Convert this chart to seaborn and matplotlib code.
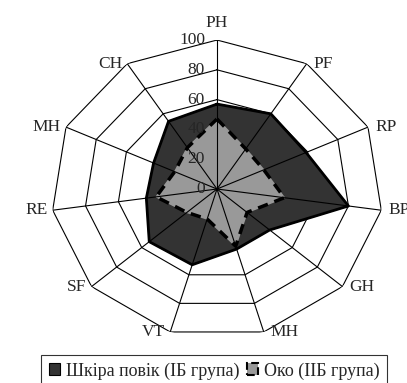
import numpy as np
import matplotlib
matplotlib.use('Agg')
import matplotlib.pyplot as plt
from matplotlib.patches import Patch
import seaborn as sns

# категорії (за годинниковою стрілкою від верху)
categories = ['PH', 'PF', 'RP', 'BP', 'GH', 'MH', 'VT', 'SF', 'RE', 'MH', 'CH']
skin_values = [57, 60, 59, 80, 42, 42, 53, 54, 43, 42, 54]   # Шкіра повік (ІБ група)
eye_values = [47, 32, 31, 41, 24, 40, 21, 24, 37, 28, 33]    # Око (ІІБ група)
ring_levels = [20, 40, 60, 80, 100]
tick_labels = ['0', '20', '40', '60', '80', '100']
series_names = ['Шкіра повік (ІБ група)', 'Око (ІІБ група)']

sns.set_theme(style='white')
plt.rcParams['font.family'] = ['Liberation Serif', 'DejaVu Serif']
plt.rcParams['font.size'] = 12.5

n = len(categories)
angles = np.linspace(0, 2 * np.pi, n, endpoint=False)
closed = np.append(angles, angles[0])

fig = plt.figure(figsize=(4.07, 3.83), dpi=100)
ax = fig.add_axes([0.1253, 0.1175, 0.8157, 0.778], projection='polar')
ax.set_theta_zero_location('N')
ax.set_theta_direction(-1)
ax.set_aspect('auto')
ax.set_ylim(0, 100)
ax.grid(False)
ax.spines['polar'].set_visible(False)
ax.set_xticks([])
ax.set_yticks([])
ax.patch.set_alpha(0)

# кільця сітки
for lvl in ring_levels:
    ax.plot(closed, [lvl] * (n + 1), color='black', lw=0.8, zorder=1)

# серії
skin = np.append(skin_values, skin_values[0])
eye = np.append(eye_values, eye_values[0])
ax.fill(closed, skin, color='#333333', zorder=2)
ax.plot(closed, skin, color='black', lw=2, zorder=3)
ax.fill(closed, eye, color='#999999', zorder=4)
ax.plot(closed, eye, color='black', lw=2.5, ls=(0, (3, 2)), zorder=5)

# промені
for a in angles:
    ax.plot([a, a], [0, 100], color='black', lw=0.8, zorder=6)

# підписи осей (BP, як в оригіналі, обрізається правим краєм)
for a, lab in zip(angles, categories):
    s = np.sin(a)
    if abs(s) < 1e-6:
        ax.annotate(lab, (a, 100), xytext=(0, 9), textcoords='offset pixels',
                    ha='center', va='bottom', annotation_clip=False)
    elif s > 0:
        ax.annotate(lab, (a, 100), xytext=(7, 0), textcoords='offset pixels',
                    ha='left', va='center', annotation_clip=False)
    else:
        ax.annotate(lab, (a, 100), xytext=(-5, 0), textcoords='offset pixels',
                    ha='right', va='center', annotation_clip=False)

# підписи шкали
for lvl, t in zip([0] + ring_levels, tick_labels):
    ax.annotate(t, (0, lvl), xytext=(-12, 0), textcoords='offset pixels',
                ha='right', va='center', zorder=7, annotation_clip=False)

handles = [Patch(facecolor='#333333', edgecolor='black', lw=0.8),
           Patch(facecolor='#999999', edgecolor='black', lw=1.5, ls='--')]
leg = fig.legend(handles, series_names, loc='center', bbox_to_anchor=(214 / 407, 1 - 371 / 383),
                 ncol=2, frameon=True, fancybox=False, edgecolor='black',
                 handlelength=0.65, handleheight=0.65, handletextpad=0.3, columnspacing=0.4,
                 borderpad=0.4, fontsize=13)
leg.get_frame().set_linewidth(0.8)

fig.savefig('out.png', dpi=100)
